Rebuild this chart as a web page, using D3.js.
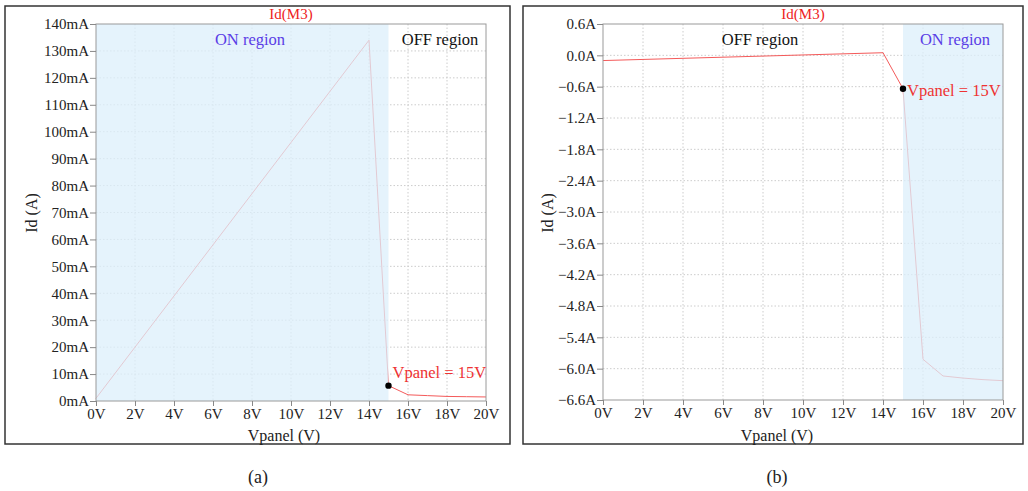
<!DOCTYPE html>
<html>
<head>
<meta charset="utf-8">
<script src="https://cdn.jsdelivr.net/npm/d3@7"></script>
<style>
  body { margin: 0; background: #fff; }
  svg text { font-family: "Liberation Serif", "Times New Roman", serif; }
</style>
</head>
<body>
<svg id="chart" width="1028" height="491"></svg>
<script>
// panel (a): Id(M3) in mA vs Vpanel
const voltsA = [0, 14, 15, 16, 17, 18, 19, 20];
const currentA = [1, 134, 5.7, 2.3, 2, 1.7, 1.6, 1.5];
const yTicksA = [0, 10, 20, 30, 40, 50, 60, 70, 80, 90, 100, 110, 120, 130, 140];

// panel (b): Id(M3) in A vs Vpanel
const voltsB = [0, 14, 15, 16, 17, 18, 19, 20];
const currentB = [-0.1, 0.05, -0.64, -5.82, -6.14, -6.18, -6.21, -6.23];
const yTicksB = [0.6, 0.0, -0.6, -1.2, -1.8, -2.4, -3.0, -3.6, -4.2, -4.8, -5.4, -6.0, -6.6];

const xTicks = [0, 2, 4, 6, 8, 10, 12, 14, 16, 18, 20];

const svg = d3.select("#chart");

function panel(opts) {
  const {box, plot, xs, ys, yDomain, yTicks, yFmt, onRange, offX, onX, caption, captionX} = opts;

  svg.append("rect")
    .attr("x", box[0]).attr("y", box[1])
    .attr("width", box[2] - box[0]).attr("height", box[3] - box[1])
    .attr("fill", "none").attr("stroke", "#333").attr("stroke-width", 1.5);

  const x = d3.scaleLinear().domain([0, 20]).range([plot.left, plot.right]);
  const y = d3.scaleLinear().domain(yDomain).range([plot.bottom, plot.top]);

  const g = svg.append("g");

  // grid
  g.selectAll(".gx").data(xTicks.slice(1, -1)).join("line")
    .attr("x1", d => x(d)).attr("x2", d => x(d))
    .attr("y1", plot.top).attr("y2", plot.bottom)
    .attr("stroke", "#ccc").attr("stroke-dasharray", "1.5,2");
  g.selectAll(".gy").data(yTicks.slice(1, -1)).join("line")
    .attr("y1", d => y(d)).attr("y2", d => y(d))
    .attr("x1", plot.left).attr("x2", plot.right)
    .attr("stroke", "#ccc").attr("stroke-dasharray", "1.5,2");

  // curve
  const line = d3.line().x((d, i) => x(xs[i])).y(d => y(d));
  g.append("path").datum(ys)
    .attr("d", line)
    .attr("fill", "none").attr("stroke", "#f45a5a").attr("stroke-width", 1);

  // ON region shading over the curve
  g.append("rect")
    .attr("x", x(onRange[0])).attr("y", plot.top)
    .attr("width", x(onRange[1]) - x(onRange[0]))
    .attr("height", plot.bottom - plot.top)
    .attr("fill", "#dceffb").attr("opacity", 0.75);

  // plot frame
  g.append("rect")
    .attr("x", plot.left).attr("y", plot.top)
    .attr("width", plot.right - plot.left).attr("height", plot.bottom - plot.top)
    .attr("fill", "none").attr("stroke", "#9a9a9a").attr("stroke-width", 1);

  // axes
  const xAxis = d3.axisBottom(x).tickValues(xTicks).tickFormat(d => d + "V").tickSize(5).tickPadding(2);
  const yAxis = d3.axisLeft(y).tickValues(yTicks).tickFormat(yFmt).tickSize(6).tickPadding(1);
  const gx = g.append("g").attr("transform", `translate(0,${plot.bottom})`).call(xAxis);
  const gy = g.append("g").attr("transform", `translate(${plot.left},0)`).call(yAxis);
  [gx, gy].forEach(a => {
    a.select(".domain").remove();
    a.selectAll(".tick line").attr("stroke", "#888");
    a.selectAll("text").attr("fill", "#222").style("font-size", "15px");
  });

  // 15V marker
  const i15 = xs.indexOf(15);
  g.append("circle").attr("cx", x(15)).attr("cy", y(ys[i15])).attr("r", 3.2).attr("fill", "#000");
  g.append("text").attr("x", x(15) + 4).attr("y", y(ys[i15]) + opts.markDy)
    .attr("fill", "#ee3333").style("font-size", "16.5px").text("Vpanel = 15V");

  // titles and labels
  const cx = (plot.left + plot.right) / 2;
  g.append("text").attr("x", cx).attr("y", 19).attr("text-anchor", "middle")
    .attr("fill", "#ee2222").style("font-size", "15px").text("Id(M3)");
  g.append("text").attr("x", onX).attr("y", 45).attr("text-anchor", "middle")
    .attr("fill", "#5a3de6").style("font-size", "16.5px").text("ON region");
  g.append("text").attr("x", offX).attr("y", 45).attr("text-anchor", "middle")
    .attr("fill", "#111").style("font-size", "16.5px").text("OFF region");
  g.append("text").attr("x", opts.xlabX).attr("y", 441).attr("text-anchor", "middle")
    .attr("fill", "#222").style("font-size", "16px").text("Vpanel (V)");
  g.append("text").attr("transform", `translate(${opts.ylabX},213) rotate(-90)`)
    .attr("text-anchor", "middle").attr("fill", "#222").style("font-size", "16px").text("Id (A)");

  svg.append("text").attr("x", captionX).attr("y", 483).attr("text-anchor", "middle")
    .attr("fill", "#222").style("font-size", "18px").text(caption);
}

panel({
  box: [5, 6, 510, 444],
  plot: {left: 96, right: 486, top: 24, bottom: 401},
  xs: voltsA, ys: currentA,
  yDomain: [0, 140], yTicks: yTicksA, yFmt: d => d + "mA",
  onRange: [0, 15], onX: 250, offX: 440,
  markDy: -8, ylabX: 37, xlabX: 284,
  caption: "(a)", captionX: 258
});

panel({
  box: [523, 6, 1023, 444],
  plot: {left: 603, right: 1003, top: 24, bottom: 400},
  xs: voltsB, ys: currentB,
  yDomain: [-6.6, 0.6], yTicks: yTicksB, yFmt: d => d3.format(".1f")(d) + "A",
  onRange: [15, 20], onX: 955, offX: 760,
  markDy: 7, ylabX: 553, xlabX: 777,
  caption: "(b)", captionX: 777
});
</script>
</body>
</html>
